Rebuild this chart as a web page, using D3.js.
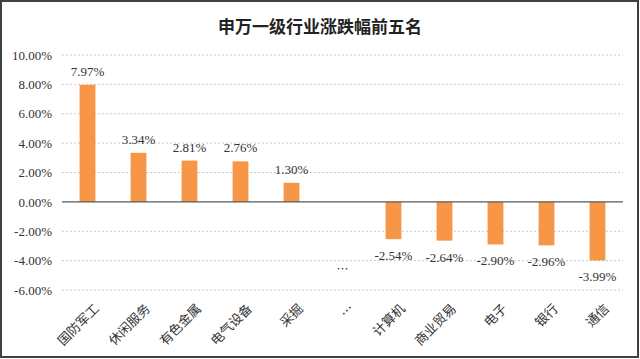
<!DOCTYPE html>
<html><head><meta charset="utf-8">
<script src="https://cdn.jsdelivr.net/npm/d3@7"></script>
<style>
html,body{margin:0;padding:0;background:#fff;}
svg{display:block;}
</style></head>
<body>
<script>
const categories = ["国防军工","休闲服务","有色金属","电气设备","采掘","…","计算机","商业贸易","电子","银行","通信"];
const values = [7.97, 3.34, 2.81, 2.76, 1.30, null, -2.54, -2.64, -2.90, -2.96, -3.99];
const yTicks = [-6, -4, -2, 0, 2, 4, 6, 8, 10];
const title = "申万一级行业涨跌幅前五名";

const CJK = "\"Noto Sans CJK SC\",\"DejaVu Sans\",sans-serif";
const NUM = "\"Liberation Serif\",\"DejaVu Serif\",serif";

const W = 640, H = 359;
const svg = d3.select("body").append("svg").attr("width", W).attr("height", H);
svg.append("rect").attr("x",1).attr("y",1).attr("width",W-3).attr("height",H-3)
  .attr("fill","#fff").attr("stroke","#404040").attr("stroke-width",2);

svg.append("text").attr("x",320).attr("y",33).attr("text-anchor","middle")
  .style("font-family",CJK).style("font-size","17px").style("font-weight","bold")
  .attr("fill","#222").text(title);

const x = d3.scaleBand().domain(categories).range([62,623]).paddingInner(0.69).paddingOuter(0.345);
const y = d3.scaleLinear().domain([-6,10]).range([290,55]);

// gridlines
svg.append("g").selectAll("line").data(yTicks.filter(d=>d!==0)).join("line")
  .attr("x1",62).attr("x2",623).attr("y1",d=>y(d)).attr("y2",d=>y(d))
  .attr("stroke","#c8c8c8").attr("stroke-width",1).attr("stroke-dasharray","2,2");

// y axis labels
const yAxis = d3.axisLeft(y).tickValues(yTicks).tickSize(0).tickPadding(0)
  .tickFormat(d=>d.toFixed(2)+"%");
const ga = svg.append("g").attr("transform","translate(52,0)").call(yAxis);
ga.select(".domain").remove();
ga.selectAll("text").attr("fill","#333")
  .style("font-family",NUM).style("font-size","13px");

// bars
const data = categories.map((c,i)=>({c, v: values[i]}));
svg.append("g").selectAll("rect").data(data.filter(d=>d.v!==null)).join("rect")
  .attr("x",d=>x(d.c)).attr("width",x.bandwidth())
  .attr("y",d=>y(Math.max(0,d.v))).attr("height",d=>Math.abs(y(d.v)-y(0)))
  .attr("fill","#F79646");

// zero line
svg.append("line").attr("x1",62).attr("x2",623).attr("y1",y(0)).attr("y2",y(0))
  .attr("stroke","#595959").attr("stroke-width",1.2);

// value labels
svg.append("g").selectAll("text").data(data.filter(d=>d.v!==null)).join("text")
  .attr("x",d=>x(d.c)+x.bandwidth()/2)
  .attr("y",d=> d.v>=0 ? y(d.v)-9 : y(d.v)+21)
  .attr("text-anchor","middle").attr("fill","#333")
  .style("font-family",NUM).style("font-size","13px")
  .text(d=>d.v.toFixed(2)+"%");

// ellipsis mark in plot
const ell = data.find(d=>d.v===null);
svg.append("text").attr("x",x(ell.c)+x.bandwidth()/2).attr("y",y(-4.9))
  .attr("text-anchor","middle").attr("fill","#333")
  .style("font-family",CJK).style("font-size","12px").text("…");

// x axis labels rotated
svg.append("g").selectAll("text").data(categories).join("text")
  .attr("transform",d=>`translate(${x(d)+x.bandwidth()/2+6},${303}) rotate(-45)`)
  .attr("text-anchor","end").attr("dy","0.7em").attr("fill","#333")
  .style("font-family",CJK).style("font-size","13px")
  .text(d=>d);
</script>
</body></html>
